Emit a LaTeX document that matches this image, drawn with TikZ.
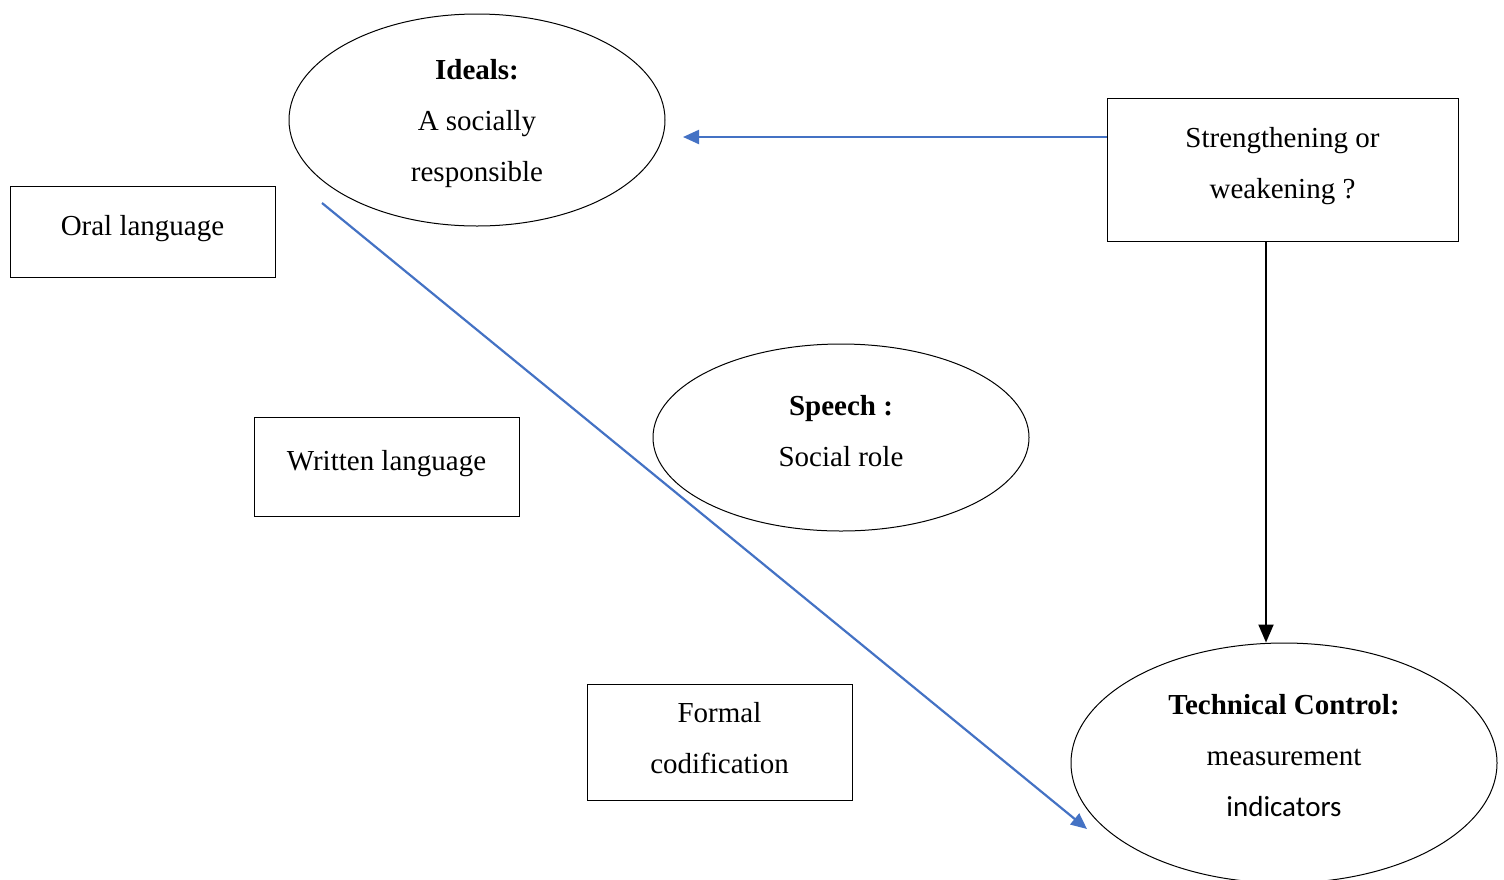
\documentclass[tikz,border=0pt]{standalone}
\usepackage{fontspec}
\setmainfont{Liberation Serif}
\newfontfamily\calfont{Carlito}
\usetikzlibrary{shapes.geometric,arrows.meta,calc}
\definecolor{arrowblue}{RGB}{68,114,196}
\begin{document}
\begin{tikzpicture}[x=1pt,y=-1pt,
  box/.style={draw,line width=1pt,rectangle,inner sep=0pt},
  oval/.style={draw,line width=1pt,ellipse,inner sep=0pt},
  txt/.style={align=center,font=\fontsize{29}{51}\selectfont,inner sep=0pt},
  bluearrow/.style={draw=arrowblue,line width=2.2pt,-{Triangle[length=16pt,width=14pt]}},
  blackarrow/.style={draw=black,line width=2pt,-{Triangle[length=18pt,width=15pt]}}]
\useasboundingbox (0,0) rectangle (1504,879);
\clip (0,0) rectangle (1504,879);
% shapes
\node[oval,minimum width=376pt,minimum height=212pt] (ideals) at (477,120) {};
\node[box,minimum width=265pt,minimum height=91pt] (oral) at (142.5,231.5) {};
\node[box,minimum width=351pt,minimum height=143pt] (strength) at (1282.5,169.5) {};
\node[oval,minimum width=376pt,minimum height=187pt] (speech) at (841,437.5) {};
\node[box,minimum width=265pt,minimum height=99pt] (written) at (386.5,466.5) {};
\node[box,minimum width=265pt,minimum height=116pt] (formal) at (719.5,742) {};
\node[oval,minimum width=426pt,minimum height=240pt] (tech) at (1284,763) {};
% texts
\node[txt] (idealst) at ($(ideals.center)+(0,4)$) {\textbf{Ideals:}\\A socially\\responsible};
\node[txt] (oralt) at ($(oral.center)+(0,-3)$) {Oral language};
\node[txt] (strengtht) at ($(strength.center)+(0,-3)$) {Strengthening or\\weakening ?};
\node[txt] (speecht) at ($(speech.center)+(0,-6)$) {\textbf{Speech :}\\Social role};
\node[txt] (writtent) at ($(written.center)+(0,-3)$) {Written language};
\node[txt] (formalt) at ($(formal.center)+(0,-4)$) {Formal\\codification};
\node[txt] (techt) at ($(tech.center)+(0,-7)$) {\textbf{Technical Control:}\\measurement\\{\calfont indicators}};
% connectors
\coordinate (idealsend) at (683,137);
\coordinate (diagstart) at (322,203);
\coordinate (diagend) at (1087,829);
\coordinate (blackx) at (1266,0);
\draw[bluearrow] (strength.west |- idealsend) -- (idealsend);
\draw[bluearrow] (diagstart) -- (diagend);
\draw[blackarrow] (blackx |- strength.south) -- (blackx |- tech.north);
\end{tikzpicture}
\end{document}
